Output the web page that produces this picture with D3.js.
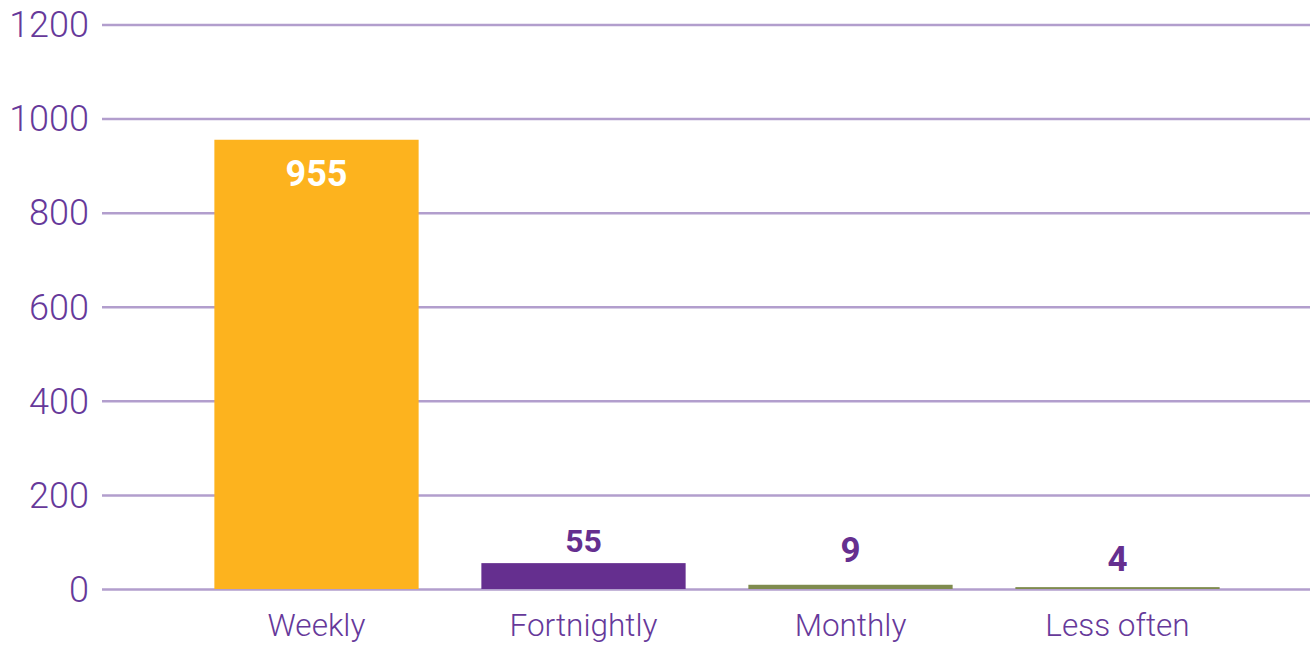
<!DOCTYPE html>
<html>
<head>
<meta charset="utf-8">
<script src="https://cdn.jsdelivr.net/npm/d3@7"></script>
<style>
  html, body { margin: 0; padding: 0; background: #ffffff; }
  svg { display: block; }
</style>
</head>
<body>
<svg id="chart" width="1312" height="646"></svg>
<script>
// ---- data ----
const categories = ["Weekly", "Fortnightly", "Monthly", "Less often"];
const values = [955, 55, 9, 4];
const tickValues = [0, 200, 400, 600, 800, 1000, 1200];

// ---- style ----
const barColors = ["#fdb31e", "#652f8f", "#7f8b4e", "#7f8b4e"];
const labelColors = ["#ffffff", "#652f8f", "#652f8f", "#652f8f"];
const labelSizes = [36, 32, 35, 35];
const labelOffsets = [46, -11, -23, -16];
const textColor = "#66399a";
const gridColor = "#b29ecd";

const svg = d3.select("#chart");

const y = d3.scaleLinear().domain([0, 1200]).range([589, 24.5]);
const x = d3.scaleBand().domain(categories).range([183, 1251]).paddingInner(0.235).paddingOuter(0.1175);

// gridlines
const gridAxis = d3.axisLeft(y).tickValues(tickValues).tickSize(-(1310 - 102)).tickFormat("");
const g = svg.append("g").attr("transform", "translate(102,0)").call(gridAxis);
g.select(".domain").remove();
g.selectAll(".tick line").attr("stroke", gridColor).attr("stroke-width", 2.5);

// y tick labels
const yAxis = d3.axisLeft(y).tickValues(tickValues).tickSize(0).tickPadding(0).tickFormat(d3.format("d"));
const ya = svg.append("g").attr("transform", "translate(89,0)").call(yAxis);
ya.select(".domain").remove();
ya.selectAll("text")
  .attr("fill", textColor)
  .attr("font-family", "Roboto, sans-serif")
  .attr("font-weight", 300)
  .attr("font-size", 36)
  .attr("dy", "0.34em");

// bars
svg.append("g").selectAll("rect")
  .data(values)
  .join("rect")
  .attr("x", (d, i) => x(categories[i]))
  .attr("width", x.bandwidth())
  .attr("y", d => y(d))
  .attr("height", d => y(0) - y(d))
  .attr("fill", (d, i) => barColors[i]);

// value labels
svg.append("g").selectAll("text")
  .data(values)
  .join("text")
  .attr("x", (d, i) => x(categories[i]) + x.bandwidth() / 2)
  .attr("y", (d, i) => y(d) + labelOffsets[i])
  .attr("text-anchor", "middle")
  .attr("font-family", "Roboto, sans-serif")
  .attr("font-weight", 700)
  .attr("font-size", (d, i) => labelSizes[i])
  .attr("fill", (d, i) => labelColors[i])
  .text(d => d);

// x category labels
const xAxis = d3.axisBottom(x).tickSize(0).tickPadding(0);
const xa = svg.append("g").attr("transform", "translate(0,636)").call(xAxis);
xa.select(".domain").remove();
xa.selectAll("text")
  .attr("fill", textColor)
  .attr("font-family", "Roboto, sans-serif")
  .attr("font-weight", 300)
  .attr("font-size", 31.5)
  .attr("dy", 0);
</script>
</body>
</html>
